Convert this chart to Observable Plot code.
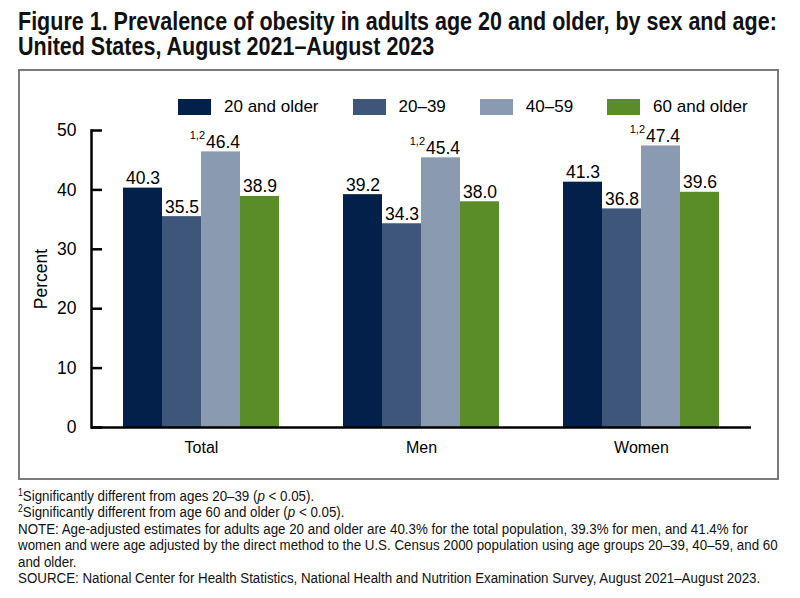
<!DOCTYPE html>
<html>
<head>
<meta charset="utf-8">
<script src="https://cdn.jsdelivr.net/npm/d3@7"></script>
<script src="https://cdn.jsdelivr.net/npm/@observablehq/plot@0.6"></script>
<style>
  html, body { margin: 0; padding: 0; background: #fff; }
  body { width: 800px; height: 598px; position: relative; overflow: hidden; font-family: "Liberation Sans", Arial, sans-serif; color: #000; }
  #title { position: absolute; left: 18px; top: 9px; width: 952px; transform: scaleX(0.85); transform-origin: 0 0; font-family: "Liberation Sans", Arial, sans-serif; font-weight: bold; font-size: 25.3px; line-height: 25px; color: #111; white-space: nowrap; }
  #title div { height: 25px; overflow: visible; }
  #frame { position: absolute; left: 18px; top: 69px; width: 757px; height: 407px; border: 2px solid #7a7a7a; }
  #legend { position: absolute; left: 158px; top: 26px; display: flex; align-items: center; font-size: 17px; white-space: nowrap; width: 620px; }
  #legend .item { display: flex; align-items: center; margin-right: 34px; flex: none; }
  #legend .sw { width: 33px; height: 16px; margin-right: 13px; flex: none; }
  #chart { position: absolute; left: 0; top: 47px; }
  #notes { position: absolute; left: 18px; top: 488px; width: 890px; transform: scaleX(0.86); transform-origin: 0 0; font-family: "Liberation Sans", Arial, sans-serif; font-size: 15.5px; line-height: 16.4px; color: #111; }
  #notes sup { font-size: 10px; vertical-align: 5px; line-height: 0; }
</style>
</head>
<body>
<div id="title"><div>Figure 1. Prevalence of obesity in adults age 20 and older, by sex and age:</div><div>United States, August 2021–August 2023</div></div>
<div id="frame">
  <div id="legend"></div>
  <div id="chart"></div>
</div>
<div id="notes">
  <div><sup>1</sup>Significantly different from ages 20–39 (<i>p</i> &lt; 0.05).</div>
  <div><sup>2</sup>Significantly different from age 60 and older (<i>p</i> &lt; 0.05).</div>
  <div>NOTE: Age-adjusted estimates for adults age 20 and older are 40.3% for the total population, 39.3% for men, and 41.4% for women and were age adjusted by the direct method to the U.S. Census 2000 population using age groups 20–39, 40–59, and 60 and older.</div>
  <div>SOURCE: National Center for Health Statistics, National Health and Nutrition Examination Survey, August 2021–August 2023.</div>
</div>
<script>
const categories = ["Total", "Men", "Women"];
const ageGroups = ["20 and older", "20–39", "40–59", "60 and older"];
const age20plus = [40.3, 39.2, 41.3];
const age20to39 = [35.5, 34.3, 36.8];
const age40to59 = [46.4, 45.4, 47.4];
const age60plus = [38.9, 38.0, 39.6];
const sigMarks40to59 = ["1,2", "1,2", "1,2"];
const yTicks = [0, 10, 20, 30, 40, 50];
const colors = ["#03204a", "#3d5679", "#8a9bb1", "#5a8d28"];

const series = [age20plus, age20to39, age40to59, age60plus];
const rows = [];
categories.forEach((c, i) => {
  ageGroups.forEach((g, j) => {
    rows.push({category: c, group: g, value: series[j][i], sig: j === 2 ? sigMarks40to59[i] : ""});
  });
});

// legend
const legend = document.getElementById("legend");
ageGroups.forEach((g, j) => {
  const item = document.createElement("div");
  item.className = "item";
  const sw = document.createElement("div");
  sw.className = "sw";
  sw.style.background = colors[j];
  const t = document.createElement("span");
  t.textContent = g;
  item.appendChild(sw);
  item.appendChild(t);
  legend.appendChild(item);
});

const plain = rows.filter(d => !d.sig);
const marked = rows.filter(d => d.sig);

const chart = Plot.plot({
  width: 757,
  height: 359,
  marginTop: 12,
  marginBottom: 50,
  marginLeft: 70,
  marginRight: 25,
  style: {fontFamily: "'Liberation Sans', Arial, sans-serif", fontSize: "17.5px", color: "#000", background: "transparent", overflow: "visible"},
  fx: {domain: categories, padding: 0, label: null},
  x: {domain: ageGroups, axis: null, paddingInner: 0, paddingOuter: 0.79},
  y: {domain: [0, 50]},
  color: {domain: ageGroups, range: colors},
  marks: [
    Plot.barY(rows, {fx: "category", x: "group", y: "value", fill: "group"}),
    Plot.ruleY([0], {stroke: "#000", strokeWidth: 2.5}),
    Plot.frame({anchor: "left", facetAnchor: "left", stroke: "#000", strokeWidth: 2.5}),
    // inward ticks
    Plot.axisY({ticks: yTicks, tickSize: 11, dx: 11, strokeWidth: 2.5, fill: "none", label: null}),
    // labels
    Plot.axisY({ticks: yTicks, tickSize: 0, tickPadding: 15, fontSize: 17.5, label: "Percent", labelAnchor: "center", labelOffset: 57, labelArrow: "none"}),
    Plot.axisFx({anchor: "bottom", tickSize: 0, tickPadding: 14, label: null, fontSize: 16}),
    Plot.text(plain, {fx: "category", x: "group", y: "value", text: d => d.value.toFixed(1), lineAnchor: "bottom", dy: -4, fontSize: 17.5}),
    Plot.text(marked, {fx: "category", x: "group", y: "value", text: d => d.value.toFixed(1), lineAnchor: "bottom", textAnchor: "start", dx: -15, dy: -4, fontSize: 17.5}),
    Plot.text(marked, {fx: "category", x: "group", y: "value", text: "sig", lineAnchor: "bottom", textAnchor: "end", dx: -16, dy: -13, fontSize: 11})
  ]
});
document.getElementById("chart").appendChild(chart);
</script>
</body>
</html>
